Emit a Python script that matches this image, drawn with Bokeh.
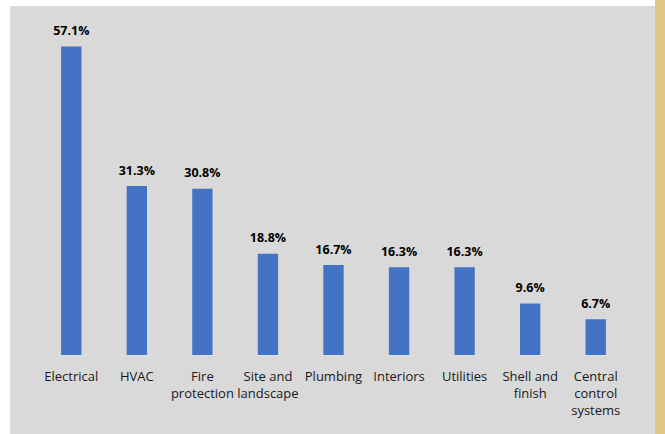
from bokeh.plotting import figure
from bokeh.models import ColumnDataSource, Range1d
from bokeh.core.properties import value
from bokeh.embed import file_html
from bokeh.resources import INLINE

categories = ["Electrical", "HVAC", "Fire\nprotection", "Site and\nlandscape", "Plumbing",
              "Interiors", "Utilities", "Shell and\nfinish", "Central\ncontrol\nsystems"]
shares = [57.1, 31.3, 30.8, 18.8, 16.7, 16.3, 16.3, 9.6, 6.7]
share_labels = ["57.1%", "31.3%", "30.8%", "18.8%", "16.7%", "16.3%", "16.3%", "9.6%", "6.7%"]

src = ColumnDataSource(dict(cat=categories, val=shares, lab=share_labels))

card_bg = ("linear-gradient(#ffffff, #ffffff) 0 0 / 655px 6px no-repeat, "
           "linear-gradient(to right, #ffffff 0px, #ffffff 10px, #d9d9d9 10px, "
           "#d9d9d9 655px, #e0c586 655px, #e0c586 100%)")

p = figure(x_range=categories, y_range=Range1d(0, 63.0), width=665, height=434,
           output_backend="svg", toolbar_location=None,
           min_border_left=38, min_border_right=37, min_border_top=14, min_border_bottom=79,
           styles={"background": card_bg})
p.background_fill_color = None
p.border_fill_color = None
p.outline_line_color = None
p.xgrid.grid_line_color = None
p.ygrid.grid_line_color = None
p.yaxis.visible = False
p.x_range.range_padding = 0

p.vbar(x="cat", top="val", width=0.31, source=src, color="#4472c4", line_color=None)
p.text(x="cat", y="val", text="lab", source=src, text_align="center",
       text_baseline="alphabetic", y_offset=-16,
       text_font=value("Open Sans"), text_font_style="bold",
       text_font_size="12.5px", text_color="#000000")

ax = p.xaxis[0]
ax.axis_line_color = "#dfdfdf"
ax.major_tick_line_color = None
ax.minor_tick_line_color = None
ax.major_tick_out = 0
ax.major_tick_in = 0
ax.major_label_standoff = 11
ax.major_label_text_font = "Open Sans"
ax.major_label_text_font_size = "13px"
ax.major_label_text_color = "#1a1a1a"
ax.major_label_text_line_height = 0.96

open("out.html", "w").write(file_html(p, INLINE))
